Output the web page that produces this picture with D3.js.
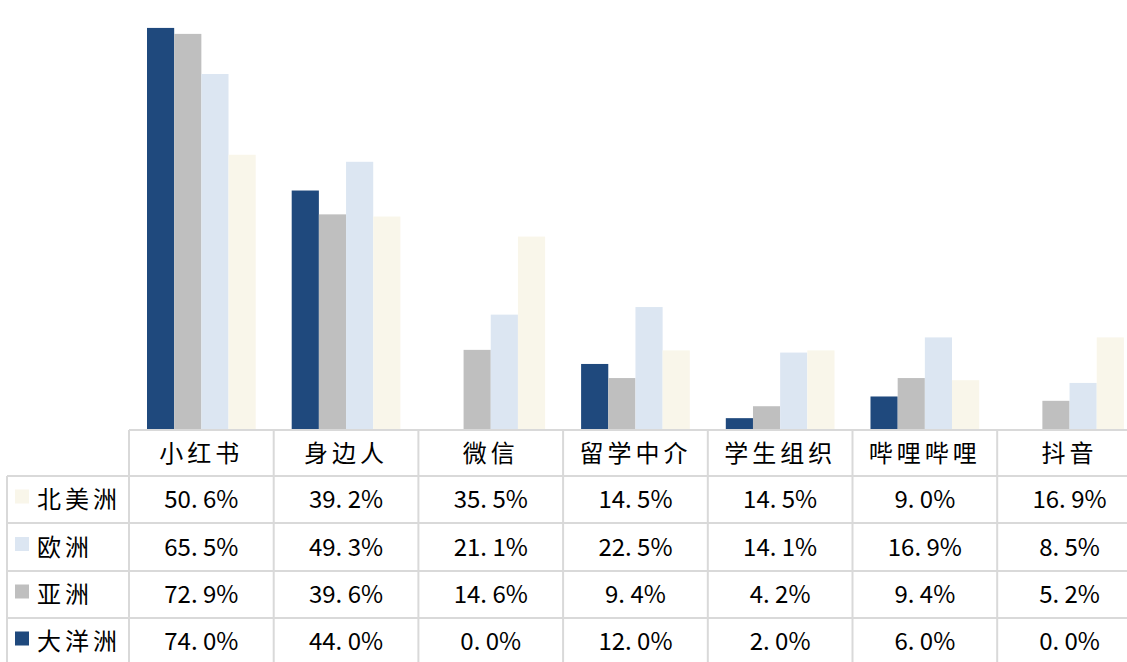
<!DOCTYPE html>
<html>
<head>
<meta charset="utf-8">
<script src="https://cdn.jsdelivr.net/npm/d3@7"></script>
<style>
  body { margin: 0; background: #fff; }
  svg { display: block; }
  text { font-family: "Noto Sans CJK SC", "Noto Sans", sans-serif; fill: #000; }
</style>
</head>
<body>
<script>
// categories and series
var categories = ["小红书", "身边人", "微信", "留学中介", "学生组织", "哔哩哔哩", "抖音"];
var tableSeries = ["北美洲", "欧洲", "亚洲", "大洋洲"];   // table row order
var barSeries = ["大洋洲", "亚洲", "欧洲", "北美洲"];     // left to right in each group

var northAmerica = [50.6, 39.2, 35.5, 14.5, 14.5, 9.0, 16.9];
var europe       = [65.5, 49.3, 21.1, 22.5, 14.1, 16.9, 8.5];
var asia         = [72.9, 39.6, 14.6, 9.4, 4.2, 9.4, 5.2];
var oceania      = [74.0, 44.0, 0.0, 12.0, 2.0, 6.0, 0.0];

var values = { "北美洲": northAmerica, "欧洲": europe, "亚洲": asia, "大洋洲": oceania };
var colors = { "北美洲": "#f9f6ea", "欧洲": "#dce6f2", "亚洲": "#bfbfbf", "大洋洲": "#1f497d" };

var W = 1127, H = 662;
var svg = d3.select("body").append("svg").attr("width", W).attr("height", H);

var colW = 144.7;
var tableLeft = 129, labelLeft = 7;
var baseY = 429;
var rowTops = [430, 476, 523, 571, 618, 665];

var x = d3.scaleBand().domain(categories).range([tableLeft, tableLeft + colW * categories.length]);
var xi = d3.scaleBand().domain(barSeries).range([18, colW - 18]);
var y = d3.scaleLinear().domain([0, 80]).range([baseY, baseY - 80 * 5.42]);

// bars
var bars = [];
categories.forEach(function(c, i) {
  barSeries.forEach(function(s) {
    bars.push({ cat: c, series: s, value: values[s][i] });
  });
});

svg.append("g").selectAll("rect")
  .data(bars)
  .enter()
  .append("rect")
  .attr("x", function(d) { return x(d.cat) + xi(d.series); })
  .attr("y", function(d) { return y(d.value); })
  .attr("width", xi.bandwidth())
  .attr("height", function(d) { return y(0) - y(d.value); })
  .attr("fill", function(d) { return colors[d.series]; });

// table grid
var grid = svg.append("g").attr("stroke", "#d9d9d9").attr("stroke-width", 2);
grid.append("line").attr("x1", tableLeft).attr("x2", W).attr("y1", rowTops[0]).attr("y2", rowTops[0]);
rowTops.slice(1).forEach(function(ry) {
  grid.append("line").attr("x1", labelLeft).attr("x2", W).attr("y1", ry).attr("y2", ry);
});
grid.append("line").attr("x1", labelLeft).attr("x2", labelLeft).attr("y1", rowTops[1]).attr("y2", H);
categories.forEach(function(c) {
  grid.append("line").attr("x1", x(c)).attr("x2", x(c)).attr("y1", rowTops[0]).attr("y2", H);
});

// header
svg.append("g").selectAll("text")
  .data(categories)
  .enter()
  .append("text")
  .attr("x", function(d) { return x(d) + colW / 2; })
  .attr("y", (rowTops[0] + rowTops[1]) / 2)
  .attr("dy", "0.36em")
  .attr("text-anchor", "middle")
  .style("font-size", "24px")
  .style("letter-spacing", "4px")
  .text(function(d) { return d; });

// rows
tableSeries.forEach(function(s, r) {
  var cy = (rowTops[r + 1] + rowTops[r + 2]) / 2;
  var g = svg.append("g");
  g.append("rect")
    .attr("x", 15).attr("y", cy - 10)
    .attr("width", 14).attr("height", 14)
    .attr("fill", colors[s]);
  g.append("text")
    .attr("x", 37).attr("y", cy).attr("dy", "0.36em")
    .style("font-size", "24px")
    .style("letter-spacing", "4px")
    .text(s);
  g.selectAll(".val")
    .data(values[s])
    .enter()
    .append("text")
    .attr("class", "val")
    .attr("x", function(d, i) { return x(categories[i]) + colW / 2; })
    .attr("y", cy).attr("dy", "0.36em")
    .attr("text-anchor", "middle")
    .style("font-size", "24px")
    .text(function(d) { return d.toFixed(1).replace(".", ". ") + "%"; });
});
</script>
</body>
</html>
